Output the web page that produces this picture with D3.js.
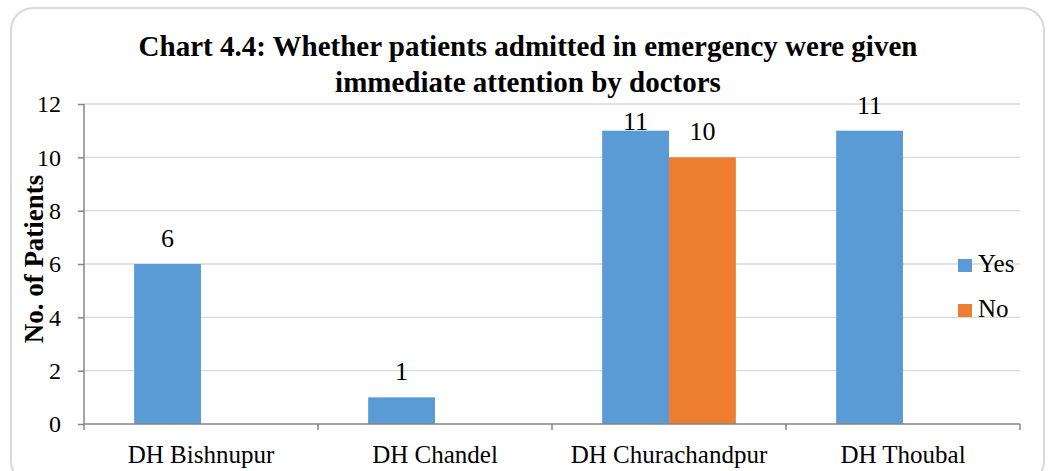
<!DOCTYPE html>
<html><head><meta charset="utf-8">
<script src="https://cdn.jsdelivr.net/npm/d3@7"></script>
<style>body{margin:0;background:#fff}svg{display:block}text{font-family:"Liberation Serif","Times New Roman",serif}</style>
</head><body>
<svg id="c" width="1052" height="471"></svg>
<script>
const categories = ["DH Bishnupur","DH Chandel","DH Churachandpur","DH Thoubal"];
const seriesNames = ["Yes","No"];
const yesValues = [6,1,11,11];
const noValues = [0,0,10,0];
const yTicks = [0,2,4,6,8,10,12];
const colors = {"Yes":"#5b9bd5","No":"#ed7d31"};

const svg = d3.select("#c");
svg.append("rect").attr("x",11).attr("y",8).attr("width",1033).attr("height",475)
  .attr("rx",22).attr("fill","#fff").attr("stroke","#d9d9d9").attr("stroke-width",2);

const L=84,R=1020,T=104,B=424;
const x = d3.scaleBand().domain(categories).range([L,R]).paddingInner(0).paddingOuter(0);
const xs = d3.scaleBand().domain(seriesNames).range([0,x.bandwidth()]).paddingInner(0).paddingOuter(0.75);
const y = d3.scaleLinear().domain([0,12]).range([B,T]);

// gridlines
svg.append("g").selectAll("line").data(yTicks.filter(d=>d>0)).join("line")
  .attr("x1",L).attr("x2",R).attr("y1",d=>y(d)).attr("y2",d=>y(d))
  .attr("stroke","#d9d9d9").attr("stroke-width",1.3);

const data = categories.map((c,i)=>({c, vals:[{s:"Yes",v:yesValues[i]},{s:"No",v:noValues[i]}]}));
const g = svg.append("g");
data.forEach(d=>{
  d.vals.filter(e=>e.v>0).forEach(e=>{
    g.append("rect").attr("x",x(d.c)+xs(e.s)).attr("y",y(e.v)).attr("width",xs.bandwidth())
      .attr("height",B-y(e.v)).attr("fill",colors[e.s]);
    const dy = (d.c==="DH Churachandpur" && e.s==="Yes") ? -1 : -17;
    g.append("text").attr("x",x(d.c)+xs(e.s)+xs.bandwidth()/2).attr("y",y(e.v)+dy)
      .attr("text-anchor","middle").attr("font-size",26).attr("fill","#000").text(e.v);
  });
});

// y axis
const ya = svg.append("g").attr("transform",`translate(${L},0)`)
  .call(d3.axisLeft(y).tickValues(yTicks).tickSize(6).tickPadding(17));
ya.select(".domain").attr("stroke","#868686").attr("stroke-width",1.5).attr("d",`M0,${T}V${B}`);
ya.selectAll(".tick line").attr("stroke","#868686").attr("stroke-width",1.5);
ya.selectAll(".tick text").attr("font-size",24).attr("font-family","Liberation Serif").attr("fill","#000");

// x axis
const xa = svg.append("g").attr("transform",`translate(0,${B})`)
  .call(d3.axisBottom(x).tickSize(0).tickPadding(20));
xa.select(".domain").attr("stroke","#868686").attr("stroke-width",1.5).attr("d",`M${L},0H${R}`);
xa.selectAll(".tick text").attr("font-size",25).attr("font-family","Liberation Serif").attr("fill","#000")
  .attr("y",39).attr("dy",0);
svg.append("g").selectAll("line").data(d3.range(categories.length+1)).join("line")
  .attr("x1",i=>L+i*x.bandwidth()).attr("x2",i=>L+i*x.bandwidth()).attr("y1",B).attr("y2",B+6)
  .attr("stroke","#868686").attr("stroke-width",1.5);

// title
const t = svg.append("text").attr("text-anchor","middle").attr("font-weight","bold").attr("font-size",29).attr("fill","#000");
t.append("tspan").attr("x",528).attr("y",56).text("Chart 4.4: Whether patients admitted in emergency were given");
t.append("tspan").attr("x",528).attr("y",92).text("immediate attention by doctors");

// y label
svg.append("text").attr("transform",`translate(43,259) rotate(-90)`).attr("text-anchor","middle")
  .attr("font-weight","bold").attr("font-size",27).text("No. of Patients");

// legend
const lg = svg.append("g");
seriesNames.forEach((s,i)=>{
  const yy = 265 + i*45;
  lg.append("rect").attr("x",958).attr("y",yy-6).attr("width",14).attr("height",13).attr("fill",colors[s]);
  lg.append("text").attr("x",978).attr("y",yy+7).attr("font-size",25).text(s);
});
</script>
</body></html>
